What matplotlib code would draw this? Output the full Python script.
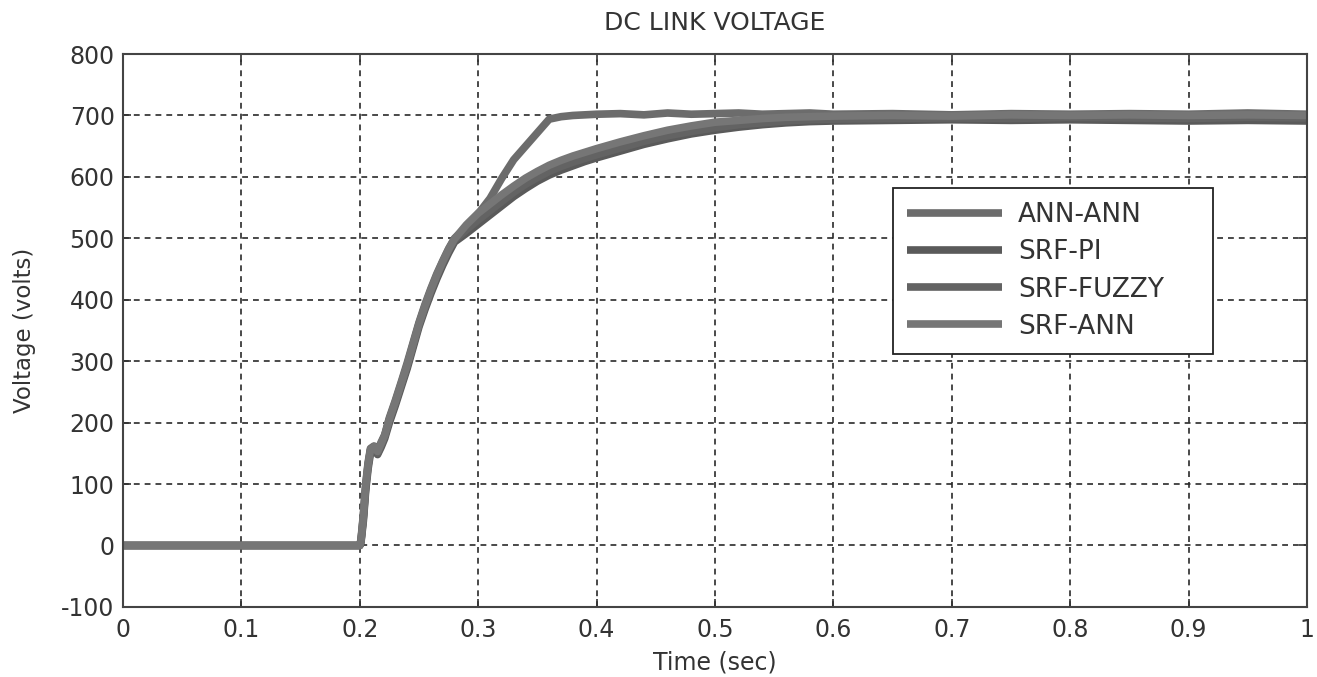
import matplotlib
matplotlib.use('Agg')
import matplotlib.pyplot as plt

# time base (sec) shared by all four traces
time = [0, 0.1, 0.2, 0.201, 0.203, 0.205, 0.207, 0.209, 0.212, 0.215, 0.218, 0.221,
        0.225, 0.23, 0.235, 0.24, 0.245, 0.25, 0.255, 0.26, 0.265, 0.27, 0.275, 0.28,
        0.29, 0.30, 0.31, 0.32, 0.33, 0.34, 0.35, 0.36, 0.37, 0.38, 0.39, 0.40,
        0.42, 0.44, 0.46, 0.48, 0.50, 0.52, 0.54, 0.56, 0.58, 0.60,
        0.65, 0.70, 0.75, 0.80, 0.85, 0.90, 0.95, 1.0]

ann_ann = [0, 0, 0, 10, 50, 100, 135, 158, 162, 155, 168, 180,
           208, 236, 266, 297, 330, 363, 392, 418, 442, 463, 483, 500,
           518, 540, 565, 598, 628, 650, 672, 694, 698, 700, 701, 702,
           703, 701, 704, 702, 703, 704, 702, 703, 704, 702,
           703, 701, 703, 702, 703, 702, 704, 702]

srf_pi = [0, 0, 0, 5, 40, 90, 125, 150, 156, 148, 160, 174,
          200, 228, 258, 288, 322, 356, 384, 410, 434, 456, 476, 494,
          508, 523, 538, 553, 568, 581, 593, 603, 611, 618, 625, 631,
          642, 653, 662, 670, 676, 681, 685, 688, 690, 691,
          692, 693, 692, 693, 692, 691, 692, 691]

srf_fuzzy = [0, 0, 0, 8, 45, 95, 130, 155, 160, 150, 164, 178,
             205, 232, 262, 292, 326, 360, 388, 414, 438, 460, 480, 497,
             514, 530, 545, 560, 575, 588, 599, 609, 617, 624, 630, 636,
             647, 658, 667, 674, 680, 685, 688, 691, 693, 694,
             695, 696, 695, 697, 696, 695, 697, 696]

srf_ann = [0, 0, 0, 7, 48, 98, 132, 156, 161, 153, 166, 179,
           206, 234, 264, 294, 328, 361, 390, 416, 440, 462, 482, 499,
           522, 541, 556, 571, 585, 598, 609, 619, 627, 634, 640, 646,
           657, 667, 676, 683, 689, 692, 695, 697, 698, 699,
           700, 699, 701, 700, 701, 700, 701, 700]

labels = ['ANN-ANN', 'SRF-PI', 'SRF-FUZZY', 'SRF-ANN']
xticks = [0, 0.1, 0.2, 0.3, 0.4, 0.5, 0.6, 0.7, 0.8, 0.9, 1]
xticklabels = ['0', '0.1', '0.2', '0.3', '0.4', '0.5', '0.6', '0.7', '0.8', '0.9', '1']
yticks = [-100, 0, 100, 200, 300, 400, 500, 600, 700, 800]

plt.rcParams['font.family'] = ['DejaVu Sans']
plt.rcParams['axes.unicode_minus'] = False

fig = plt.figure(figsize=(13.17, 6.77), dpi=100)
ax = fig.add_axes([0.0934, 0.1035, 0.8990, 0.8167])

colors = ['#6c6c6c', '#5a5a5a', '#636363', '#767676']
series = [ann_ann, srf_pi, srf_fuzzy, srf_ann]
for i in range(len(series)):
    ax.plot(time, series[i], color=colors[i], lw=5.5, label=labels[i],
            solid_capstyle='butt')

ax.set_xlim(0, 1)
ax.set_ylim(-100, 800)
ax.set_xticks(xticks)
ax.set_xticklabels(xticklabels)
ax.set_yticks(yticks)
ax.grid(True, color='#2a2a2a', linestyle=(0, (3.5, 3)), lw=1.2)
ax.tick_params(direction='in', length=6, width=1.2, top=True, right=True,
               labelsize=17, colors='#333333', pad=6)
ax.tick_params(axis='x', pad=8)
for sp in ax.spines.values():
    sp.set_color('#444444')
    sp.set_linewidth(1.5)

ax.set_title('DC LINK VOLTAGE', fontsize=18, color='#333333', pad=17)
ax.set_xlabel('Time (sec)', fontsize=17, color='#333333', labelpad=6)
ax.set_ylabel('Voltage (volts)', fontsize=16.5, color='#333333', labelpad=18)

leg = ax.legend(loc='upper left', bbox_to_anchor=(0.650, 0.472, 0.271, 0.286),
                mode='expand', borderaxespad=0,
                fontsize=19, handlelength=3.6, handletextpad=0.6, labelspacing=0.42,
                fancybox=False, framealpha=1, edgecolor='#222222',
                borderpad=0.55)
leg.get_frame().set_linewidth(1.3)
for txt in leg.get_texts():
    txt.set_color('#333333')

fig.savefig('out.png', dpi=100)
